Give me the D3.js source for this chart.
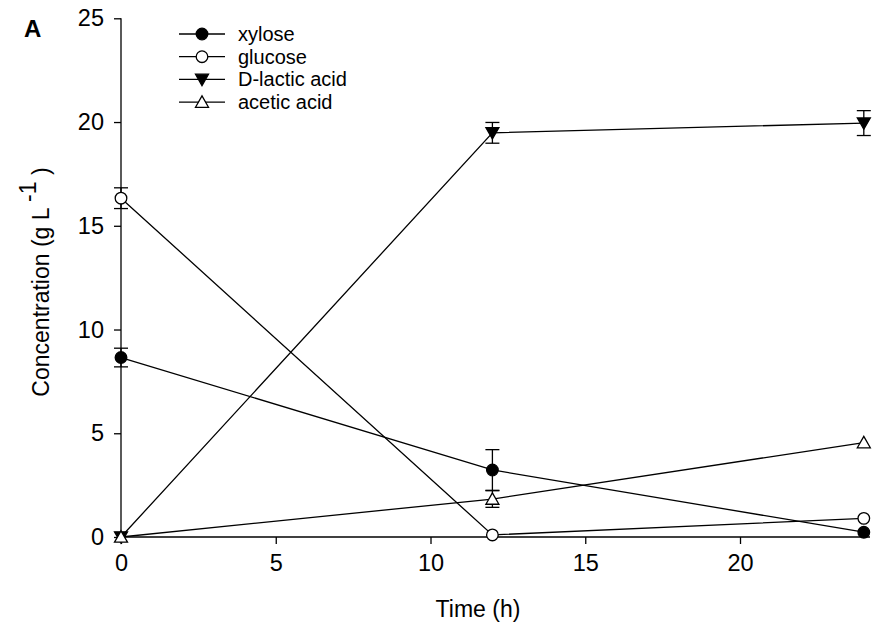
<!DOCTYPE html>
<html><head><meta charset="utf-8">
<script src="https://cdn.jsdelivr.net/npm/d3@7"></script>
<style>body{margin:0;background:#fff}svg{display:block}text{font-family:"Liberation Sans",Arial,sans-serif}</style>
</head><body>
<svg id="c" width="875" height="638"></svg>
<script>
const times = [0, 12, 24];
const seriesNames = ["xylose", "glucose", "D-lactic acid", "acetic acid"];
const xylose = [8.65, 3.23, 0.23];
const xyloseErr = [0.45, 0.98, 0.05];
const glucose = [16.33, 0.1, 0.9];
const glucoseErr = [0.5, 0.05, 0.05];
const lactic = [0.0, 19.48, 19.95];
const lacticErr = [0.1, 0.5, 0.6];
const acetic = [0.0, 1.83, 4.55];
const aceticErr = [0.05, 0.4, 0.1];
const xTicks = [0, 5, 10, 15, 20];
const yTicks = [0, 5, 10, 15, 20, 25];

const svg = d3.select("#c");
const x = d3.scaleLinear().domain([0, 24.2]).range([121, 870]);
const y = d3.scaleLinear().domain([0, 25]).range([537, 18.3]);

// axes
const xa = svg.append("g").attr("transform","translate(0,537)")
  .call(d3.axisBottom(x).tickValues(xTicks).tickSize(7).tickPadding(10).tickFormat(d3.format("d")));
const ya = svg.append("g").attr("transform","translate(121,0)")
  .call(d3.axisLeft(y).tickValues(yTicks).tickSize(7).tickPadding(10).tickFormat(d3.format("d")));
[xa, ya].forEach(g=>{
  g.select(".domain").attr("stroke","#000").attr("stroke-width",1.3);
  g.selectAll(".tick line").attr("stroke","#000").attr("stroke-width",1.3);
  g.selectAll("text").attr("font-size",23.5).attr("fill","#000").attr("font-family","Liberation Sans, Arial, sans-serif");
});
xa.select(".domain").attr("d","M121,0H870");
ya.select(".domain").attr("d","M0,537V18.3");

const series = [
  {name: seriesNames[0], vals: xylose, err: xyloseErr, shape: "circle", fill: "#000"},
  {name: seriesNames[1], vals: glucose, err: glucoseErr, shape: "circle", fill: "#fff"},
  {name: seriesNames[2], vals: lactic, err: lacticErr, shape: "tridown", fill: "#000"},
  {name: seriesNames[3], vals: acetic, err: aceticErr, shape: "triup", fill: "#fff"}
];

function drawMarker(g, shape, fill, cx, cy){
  if(shape==="circle"){
    g.append("circle").attr("cx",cx).attr("cy",cy).attr("r",5.8)
      .attr("fill",fill).attr("stroke","#000").attr("stroke-width",1.3);
  } else {
    const s = 6.5;
    const pts = shape==="tridown"
      ? [[cx-s,cy-s*0.8],[cx+s,cy-s*0.8],[cx,cy+s*0.95]]
      : [[cx-s,cy+s*0.8],[cx+s,cy+s*0.8],[cx,cy-s*0.95]];
    g.append("path").attr("d", d3.line()(pts)+"Z")
      .attr("fill",fill).attr("stroke","#000").attr("stroke-width",1.3);
  }
}

const line = d3.line().x((d,i)=>x(times[i])).y(d=>y(d));
const plot = svg.append("g");
series.forEach(s=>{
  plot.append("path").attr("d", line(s.vals)).attr("fill","none").attr("stroke","#000").attr("stroke-width",1.3);
});
series.forEach(s=>{
  s.vals.forEach((v,i)=>{
    const e = s.err[i];
    if(y(v-e)-y(v+e) < 12) return;
    const cx = x(times[i]);
    const g = plot.append("g").attr("stroke","#000").attr("stroke-width",1.3);
    g.append("line").attr("x1",cx).attr("x2",cx).attr("y1",y(v+e)).attr("y2",y(v-e));
    g.append("line").attr("x1",cx-7).attr("x2",cx+7).attr("y1",y(v+e)).attr("y2",y(v+e));
    g.append("line").attr("x1",cx-7).attr("x2",cx+7).attr("y1",y(v-e)).attr("y2",y(v-e));
  });
});
series.forEach(s=>{
  s.vals.forEach((v,i)=> drawMarker(plot, s.shape, s.fill, x(times[i]), y(v)));
});

// legend
const leg = svg.append("g");
series.forEach((s,i)=>{
  const ly = 34 + i*22.7;
  leg.append("line").attr("x1",179).attr("x2",225).attr("y1",ly).attr("y2",ly).attr("stroke","#000").attr("stroke-width",1.3);
  drawMarker(leg, s.shape, s.fill, 202, ly);
  leg.append("text").attr("x",238).attr("y",ly+7).attr("font-size",20).text(s.name);
});

// titles
svg.append("text").attr("x", 478).attr("y", 617).attr("text-anchor","middle").attr("font-size",23).text("Time (h)");
const yt = svg.append("text").attr("transform","translate(49,282) rotate(-90)").attr("text-anchor","middle").attr("font-size",23);
yt.append("tspan").text("Concentration (g L ");
yt.append("tspan").attr("dy",-13).text("-1");
yt.append("tspan").attr("dy",13).text("  )");
svg.append("text").attr("x",24).attr("y",37).attr("font-size",24).attr("font-weight","bold").text("A");
</script>
</body></html>
